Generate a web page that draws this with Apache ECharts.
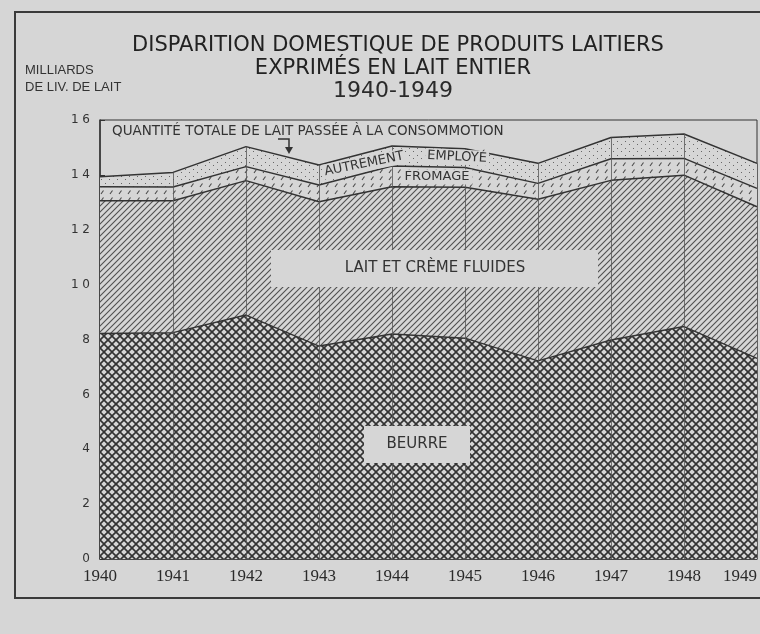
<!DOCTYPE html>
<html>
<head>
<meta charset="utf-8">
<script src="https://cdn.jsdelivr.net/npm/echarts@6/dist/echarts.min.js"></script>
<style>
  html, body { margin: 0; padding: 0; background: #d6d6d6; }
  #chart { width: 760px; height: 634px; }
</style>
</head>
<body>
<div id="chart"></div>
<script>
// milliards de livres de lait
const years = ['1940', '1941', '1942', '1943', '1944', '1945', '1946', '1947', '1948', '1949'];
const beurre = [8.22, 8.25, 8.89, 7.76, 8.2, 8.05, 7.22, 7.98, 8.47, 7.31];
const laitCreme = [4.84, 4.81, 4.9, 5.26, 5.37, 5.5, 5.89, 5.82, 5.52, 5.53];
const fromage = [0.51, 0.5, 0.51, 0.61, 0.75, 0.72, 0.58, 0.79, 0.61, 0.67];
const autrement = [0.36, 0.53, 0.73, 0.73, 0.73, 0.68, 0.73, 0.77, 0.89, 0.91];
const yTickLabels = ['0', '2', '4', '6', '8', '1 0', '1 2', '1 4', '1 6'];

const BG = '#d6d6d6';
const INK = '#333';

// total = somme des quatre couches (pour les lignes verticales)
const total = years.map((_, i) => beurre[i] + laitCreme[i] + fromage[i] + autrement[i]);

// motifs de remplissage
function pattern(w, h, draw) {
  const c = document.createElement('canvas');
  c.width = w;
  c.height = h;
  const ctx = c.getContext('2d');
  ctx.fillStyle = BG;
  ctx.fillRect(0, 0, w, h);
  draw(ctx, w, h);
  return { image: c, repeat: 'repeat' };
}
function diag(ctx, s, dir) {
  ctx.beginPath();
  if (dir > 0) {
    ctx.moveTo(-1, s + 1); ctx.lineTo(s + 1, -1);
    ctx.moveTo(-1, 1); ctx.lineTo(1, -1);
    ctx.moveTo(s - 1, s + 1); ctx.lineTo(s + 1, s - 1);
  } else {
    ctx.moveTo(-1, -1); ctx.lineTo(s + 1, s + 1);
    ctx.moveTo(s - 1, -1); ctx.lineTo(s + 1, 1);
    ctx.moveTo(-1, s - 1); ctx.lineTo(1, s + 1);
  }
  ctx.stroke();
}
const crossHatch = pattern(8, 8, (ctx, s) => {
  ctx.strokeStyle = '#333';
  ctx.lineWidth = 1.6;
  diag(ctx, s, 1);
  diag(ctx, s, -1);
});
const hatch = pattern(6, 6, (ctx, s) => {
  ctx.strokeStyle = '#505050';
  ctx.lineWidth = 1.1;
  diag(ctx, s, 1);
});
const dashes = pattern(9, 7, (ctx) => {
  ctx.strokeStyle = '#4a4a4a';
  ctx.lineWidth = 1.1;
  ctx.beginPath();
  ctx.moveTo(2, 5); ctx.lineTo(4.5, 1.5);
  ctx.stroke();
});
const dots = pattern(8, 7, (ctx) => {
  ctx.fillStyle = '#666';
  ctx.fillRect(1, 1, 1, 1);
  ctx.fillRect(5, 4, 1, 1);
});

function layer(name, data, fill) {
  return {
    name: name,
    type: 'line',
    stack: 'lait',
    data: data,
    symbol: 'none',
    lineStyle: { color: INK, width: 1.5 },
    areaStyle: { color: fill, opacity: 1 },
    silent: true
  };
}

const chart = echarts.init(document.getElementById('chart'));
const series = [
  layer('Beurre', beurre, crossHatch),
  layer('Lait et crème fluides', laitCreme, hatch),
  layer('Fromage', fromage, dashes),
  layer('Autrement employé', autrement, dots)
];
// lignes verticales des années, du zéro jusqu'au total
series[3].markLine = {
  silent: true,
  symbol: ['none', 'none'],
  label: { show: false },
  lineStyle: { color: '#555', width: 0.8, type: 'solid' },
  data: years.slice(1).map((y, i) => [{ coord: [y, 0] }, { coord: [y, total[i + 1]] }])
};

const titleFont = 'DejaVu Sans, sans-serif';

chart.setOption({
  backgroundColor: BG,
  animation: false,
  grid: {
    left: 100, right: 2, top: 120, bottom: 75,
    show: true, borderColor: INK, borderWidth: 1
  },
  xAxis: {
    type: 'category',
    data: years,
    boundaryGap: false,
    axisLine: { lineStyle: { color: INK, width: 1.5 } },
    axisTick: { show: false },
    splitLine: { show: false },
    axisLabel: {
      color: '#2a2a2a', fontFamily: 'Liberation Serif', fontSize: 17, margin: 9,
      alignMaxLabel: 'right'
    }
  },
  yAxis: {
    type: 'value',
    min: 0, max: 16, interval: 2,
    axisLine: { show: true, lineStyle: { color: INK, width: 1.5 } },
    axisTick: { show: true, inside: true, length: 5, lineStyle: { color: INK } },
    splitLine: { show: false },
    axisLabel: {
      color: '#333', fontFamily: 'DejaVu Sans', fontSize: 12, margin: 10,
      formatter: (v) => yTickLabels[v / 2]
    }
  },
  series: series,
  graphic: [
    { type: 'rect', shape: { x: 15, y: 12, width: 760, height: 586 },
      style: { fill: 'none', stroke: '#3a3a3a', lineWidth: 2 }, silent: true },
    { type: 'text', x: 398, y: 46,
      style: { text: 'DISPARITION DOMESTIQUE DE PRODUITS LAITIERS', font: '21px ' + titleFont,
               fill: '#222', align: 'center', verticalAlign: 'middle' } },
    { type: 'text', x: 393, y: 69,
      style: { text: 'EXPRIMÉS EN LAIT ENTIER', font: '21px ' + titleFont,
               fill: '#222', align: 'center', verticalAlign: 'middle' } },
    { type: 'text', x: 393, y: 91,
      style: { text: '1940-1949', font: '22px ' + titleFont,
               fill: '#2a2a2a', align: 'center', verticalAlign: 'middle' } },
    { type: 'text', x: 25, y: 79,
      style: { text: 'MILLIARDS\nDE LIV. DE LAIT', font: '13px Liberation Sans, sans-serif',
               fill: INK, align: 'left', verticalAlign: 'middle', lineHeight: 17 } },
    { type: 'text', x: 112, y: 131, z: 100,
      style: { text: 'QUANTITÉ TOTALE DE LAIT PASSÉE À LA CONSOMMOTION', font: '13.5px ' + titleFont,
               fill: INK, align: 'left', verticalAlign: 'middle' } },
    { type: 'polyline', z: 100, shape: { points: [[278, 139], [289, 139], [289, 149]] },
      style: { stroke: INK, lineWidth: 1.5, fill: 'none' } },
    { type: 'polygon', z: 100, shape: { points: [[285, 147], [293, 147], [289, 154]] },
      style: { fill: INK } },
    { type: 'text', x: 364, y: 164, rotation: 0.2, z: 100,
      style: { text: 'AUTREMENT', font: '13px ' + titleFont, fill: INK,
               align: 'center', verticalAlign: 'middle', backgroundColor: BG, padding: [1, 2] } },
    { type: 'text', x: 457, y: 157, rotation: -0.05, z: 100,
      style: { text: 'EMPLOYÉ', font: '13px ' + titleFont, fill: INK,
               align: 'center', verticalAlign: 'middle', backgroundColor: BG, padding: [1, 2] } },
    { type: 'text', x: 437, y: 177, z: 100,
      style: { text: 'FROMAGE', font: '13px ' + titleFont, fill: INK,
               align: 'center', verticalAlign: 'middle', backgroundColor: BG, padding: [1, 3] } },
    { type: 'rect', z: 100, shape: { x: 271, y: 250, width: 327, height: 37 },
      style: { fill: BG } },
    { type: 'text', x: 435, y: 268, z: 101,
      style: { text: 'LAIT ET CRÈME FLUIDES', font: '15px ' + titleFont, fill: INK,
               align: 'center', verticalAlign: 'middle' } },
    { type: 'rect', z: 100, shape: { x: 364, y: 426, width: 106, height: 37 },
      style: { fill: BG } },
    { type: 'text', x: 417, y: 444, z: 101,
      style: { text: 'BEURRE', font: '15px ' + titleFont, fill: INK,
               align: 'center', verticalAlign: 'middle' } }
  ]
});
</script>
</body>
</html>
